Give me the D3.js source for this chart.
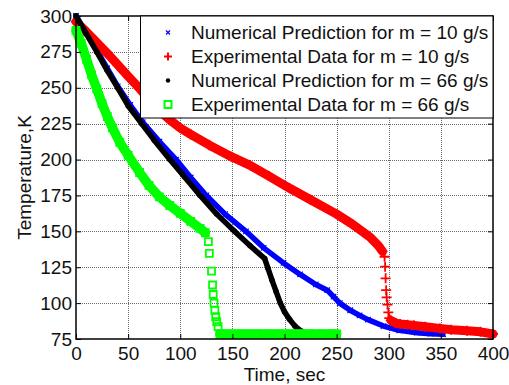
<!DOCTYPE html>
<html>
<head>
<meta charset="utf-8">
<script src="https://cdn.jsdelivr.net/npm/d3@7"></script>
<style>
  html, body { margin: 0; padding: 0; background: #fff; }
  svg { display: block; font-family: "Liberation Sans", Arial, sans-serif; }
</style>
</head>
<body>
<svg id="chart" width="509" height="385"></svg>
<script>
// Axis ticks
const xTicks = [0, 50, 100, 150, 200, 250, 300, 350, 400];
const yTicks = [75, 100, 125, 150, 175, 200, 225, 250, 275, 300];
const xTitle = "Time, sec";
const yTitle = "Temperature,K";
const legendLabels = [
  "Numerical Prediction for m = 10 g/s",
  "Experimental Data for m = 10 g/s",
  "Numerical Prediction for m = 66 g/s",
  "Experimental Data for m = 66 g/s"
];

// Numerical prediction, m = 10 g/s
const numTime10 = [0, 10, 20, 30, 40, 52, 64, 80, 96, 110, 125, 143, 163, 180, 199, 215, 230, 241, 247, 253, 263, 272, 280, 295, 310, 327, 340, 352];
const numTemp10 = [300, 288, 276, 263.5, 251, 238, 226, 212.5, 200, 187.5, 175, 162, 150, 138.5, 128, 120, 113, 109, 104.5, 100, 95, 91.5, 88.5, 84, 81, 79.4, 78.7, 78.3];

// Experimental data, m = 10 g/s (null separates the sampled runs before and after the sharp drop)
const expTime10 = [0, 10, 20, 30, 40, 50, 61, 70, 80, 90, 100, 110, 128, 149, 167, 185, 205, 225, 250, 265, 282, 290, 294, null,
                   302, 307, 311, 318, 324, 335, 349, 360, 375, 388, 400];
const expTemp10 = [296, 289, 281.5, 274, 266, 258, 249.5, 242, 234, 227.6, 222, 217.5, 210, 202, 196, 188.5, 180, 172, 162, 155, 146, 140, 136, null,
                   88, 86, 85.5, 85, 84.5, 83.5, 82.4, 81.5, 80.8, 80, 78.5];
// Sparse samples during the drop, m = 10 g/s
const dropTime10 = [296, 296.5, 297, 297.5, 298, 298.8, 299.6, 300.5];
const dropTemp10 = [132.3, 125.4, 117.3, 109, 104, 99, 93.5, 89.5];

// Numerical prediction, m = 66 g/s
const numTime66 = [0, 10, 20, 30, 40, 50, 63, 75, 90, 104, 119, 135, 152, 167, 181, 184, 188, 192, 196, 200, 205, 210, 215, 219];
const numTemp66 = [300, 287.5, 275, 262, 250, 237.5, 225, 213.5, 200, 188, 175, 162, 150, 140, 131, 124.5, 116, 108, 100, 94, 88.5, 84, 81, 79.5];

// Experimental data, m = 66 g/s
const expTime66 = [0, 5, 10, 15, 20, 25, 30, 35, 42, 50, 61, 70, 80, 90, 100, 110, 119, 124, null,
                   138, 145, 155, 165, 175, 185, 195, 205, 215, 225, 235, 245, 250];
const expTemp66 = [290, 281, 270, 259, 249, 239, 230, 222, 212, 203, 191, 182, 174, 168, 162.5, 157, 152, 149, null,
                   78.5, 78.5, 78.5, 78.5, 78.5, 78.5, 78.5, 78.5, 78.5, 78.5, 78.5, 78.5, 78.5];
// Sparse samples during the drop, m = 66 g/s
const dropTime66 = [127, 127.9, 130, 131, 131.6, 132.4, 133.2, 134, 135, 136.3];
const dropTemp66 = [142.8, 134.7, 122.3, 112.6, 106, 100, 95, 90.5, 87, 83.6];

const colors = ["#0000ff", "#ff0000", "#000000", "#00ff00"];

const svg = d3.select("#chart");
const x = d3.scaleLinear().domain([0, 400]).range([76, 493]);
const y = d3.scaleLinear().domain([75, 300]).range([339, 16]);

// Dotted grid
const grid = svg.append("g").attr("stroke", "#6a6a6a").attr("stroke-width", 1)
  .attr("stroke-dasharray", "1,1").attr("shape-rendering", "crispEdges");
grid.selectAll("line.gx").data(xTicks.slice(1, -1)).join("line").attr("class", "gx")
  .attr("x1", d => Math.round(x(d)) + 0.5).attr("x2", d => Math.round(x(d)) + 0.5)
  .attr("y1", y(75)).attr("y2", y(300));
grid.selectAll("line.gy").data(yTicks.slice(1, -1)).join("line").attr("class", "gy")
  .attr("y1", d => Math.round(y(d)) + 0.5).attr("y2", d => Math.round(y(d)) + 0.5)
  .attr("x1", x(0)).attr("x2", x(400));

// Marker shapes
function markerPath(kind, s) {
  const h = s / 2;
  if (kind === "x") return `M${-h},${-h}L${h},${h}M${-h},${h}L${h},${-h}`;
  if (kind === "plus") return `M${-h},0L${h},0M0,${-h}L0,${h}`;
  if (kind === "square") return `M${-h},${-h}H${h}V${h}H${-h}Z`;
  return null;
}
function drawMarkers(g, pts, kind, color, size, sw) {
  if (kind === "dot") {
    g.selectAll(null).data(pts).join("circle")
      .attr("cx", d => x(d.t)).attr("cy", d => y(d.v)).attr("r", size / 2).attr("fill", color);
  } else {
    g.selectAll(null).data(pts).join("path")
      .attr("transform", d => `translate(${x(d.t)},${y(d.v)})`)
      .attr("d", markerPath(kind, size)).attr("fill", "none")
      .attr("stroke", color).attr("stroke-width", sw);
  }
}
function zipPts(times, temps) {
  return times.map((t, i) => ({ t: t, v: temps[i] }));
}
const line = d3.line().defined(d => d.v != null).x(d => x(d.t)).y(d => y(d.v));

function drawSeries(times, temps, color, bandWidth, kind, size, sw, dropTimes, dropTemps) {
  const g = svg.append("g");
  const pts = zipPts(times, temps);
  g.append("path").datum(pts).attr("d", line).attr("fill", "none")
    .attr("stroke", color).attr("stroke-width", bandWidth)
    .attr("stroke-linejoin", "round").attr("stroke-linecap", "round");
  drawMarkers(g, pts.filter(d => d.v != null), kind, color, size, sw);
  if (dropTimes) drawMarkers(g, zipPts(dropTimes, dropTemps), kind, color, size, sw);
}

drawSeries(numTime10, numTemp10, colors[0], 5.5, "x", 5.5, 1.2);
drawSeries(expTime10, expTemp10, colors[1], 9, "plus", 10, 1.8, dropTime10, dropTemp10);
drawSeries(numTime66, numTemp66, colors[2], 5.5, "dot", 5.5, 1);
drawSeries(expTime66, expTemp66, colors[3], 9.5, "square", 7, 1.8, dropTime66, dropTemp66);

// Axes with inward ticks on all four sides
const fontSize = 19;
const axB = svg.append("g").attr("transform", `translate(0,${y(75)})`)
  .call(d3.axisBottom(x).tickValues(xTicks).tickSizeInner(-5).tickSizeOuter(0).tickPadding(7.5));
const axL = svg.append("g").attr("transform", `translate(${x(0)},0)`)
  .call(d3.axisLeft(y).tickValues(yTicks).tickSizeInner(-5).tickSizeOuter(0).tickPadding(4));
const axT = svg.append("g").attr("transform", `translate(0,${y(300)})`)
  .call(d3.axisTop(x).tickValues(xTicks).tickSizeInner(-5).tickSizeOuter(0).tickFormat(""));
const axR = svg.append("g").attr("transform", `translate(${x(400)},0)`)
  .call(d3.axisRight(y).tickValues(yTicks).tickSizeInner(-5).tickSizeOuter(0).tickFormat(""));
[axB, axL, axT, axR].forEach(a => {
  a.select(".domain").remove();
  a.selectAll(".tick line").attr("stroke", "#000").attr("stroke-width", 1);
  a.selectAll("text").attr("font-size", fontSize).attr("fill", "#111")
    .attr("font-family", "'Liberation Sans', Arial, sans-serif");
});

// Plot frame
svg.append("rect").attr("x", x(0)).attr("y", y(300))
  .attr("width", x(400) - x(0)).attr("height", y(75) - y(300))
  .attr("fill", "none").attr("stroke", "#000").attr("stroke-width", 1.5);

// Axis titles
svg.append("text").attr("x", (x(0) + x(400)) / 2).attr("y", 381)
  .attr("text-anchor", "middle").attr("font-size", fontSize).attr("fill", "#111").text(xTitle);
svg.append("text").attr("transform", `translate(31,${(y(75) + y(300)) / 2}) rotate(-90)`)
  .attr("text-anchor", "middle").attr("font-size", fontSize).attr("fill", "#111").text(yTitle);

// Legend
const lg = svg.append("g");
lg.append("rect").attr("x", 140.5).attr("y", y(300)).attr("width", x(400) - 140.5).attr("height", 102)
  .attr("fill", "#fff").attr("stroke", "#000").attr("stroke-width", 1);
const legendKinds = [
  { kind: "x", size: 4, sw: 1.2 },
  { kind: "plus", size: 8, sw: 2 },
  { kind: "dot", size: 4.5, sw: 1 },
  { kind: "square", size: 7, sw: 2 }
];
legendLabels.forEach((label, i) => {
  const cy = 32.5 + i * 24;
  const k = legendKinds[i];
  const mk = lg.append("g").attr("transform", `translate(168,${cy})`);
  if (k.kind === "dot") {
    mk.append("circle").attr("r", k.size / 2).attr("fill", colors[i]);
  } else {
    mk.append("path").attr("d", markerPath(k.kind, k.size)).attr("fill", "none")
      .attr("stroke", colors[i]).attr("stroke-width", k.sw);
  }
  lg.append("text").attr("x", 191).attr("y", cy + 6.8).attr("font-size", fontSize)
    .attr("fill", "#111").text(label);
});
</script>
</body>
</html>
